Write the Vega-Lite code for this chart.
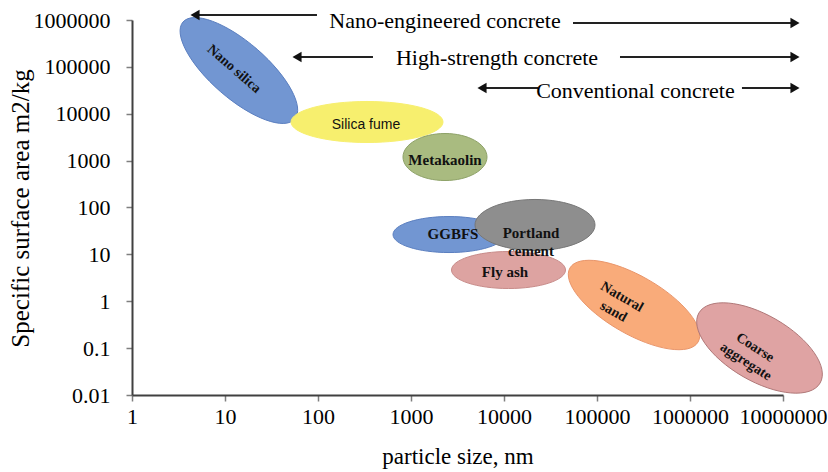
{
  "$schema": "https://vega.github.io/schema/vega-lite/v6.json",
  "autosize": {"type": "none"},
  "padding": {"left": 132, "top": 20, "right": 45, "bottom": 77},
  "width": 651,
  "height": 375,
  "background": "white",
  "config": {"view": {"stroke": null}},
  "datasets": {
    "materials": [
      {"material": "Nano silica", "size_nm": 14.1, "ssa": 83700},
      {"material": "Silica fume", "size_nm": 336.5, "ssa": 6670},
      {"material": "Metakaolin", "size_nm": 2320, "ssa": 1194},
      {"material": "GGBFS", "size_nm": 2563, "ssa": 26.5},
      {"material": "Portland cement", "size_nm": 21540, "ssa": 42.4},
      {"material": "Fly ash", "size_nm": 11180, "ssa": 4.64},
      {"material": "Natural sand", "size_nm": 250000, "ssa": 0.832},
      {"material": "Coarse aggregate", "size_nm": 5590000, "ssa": 0.1007}
    ],
    "labels": [
      {"material": "Nano silica", "text": "Nano silica", "size_nm": 12.5, "ssa": 90200},
      {"material": "Silica fume", "text": "Silica fume", "size_nm": 328, "ssa": 5754},
      {"material": "Metakaolin", "text": "Metakaolin", "size_nm": 2320, "ssa": 1030},
      {"material": "GGBFS", "text": "GGBFS", "size_nm": 2830, "ssa": 27.2},
      {"material": "Portland cement", "text": "Portland\ncement", "size_nm": 19500, "ssa": 28.6},
      {"material": "Fly ash", "text": "Fly ash", "size_nm": 10250, "ssa": 4.21},
      {"material": "Natural sand", "text": "Natural\nsand", "size_nm": 185700, "ssa": 1.23},
      {"material": "Coarse aggregate", "text": "Coarse\naggregate", "size_nm": 5000000, "ssa": 0.103}
    ],
    "arrows": [
      {"concrete": "Nano-engineered concrete", "side": "left", "x1": 4.76, "x2": 97.5, "y": 1279000},
      {"concrete": "Nano-engineered concrete", "side": "right", "x1": 55200, "x2": 13460000, "y": 863000},
      {"concrete": "High-strength concrete", "side": "left", "x1": 59.5, "x2": 390, "y": 162400},
      {"concrete": "High-strength concrete", "side": "right", "x1": 176700, "x2": 13460000, "y": 162400},
      {"concrete": "Conventional concrete", "side": "left", "x1": 5800, "x2": 23200, "y": 35400},
      {"concrete": "Conventional concrete", "side": "right", "x1": 3620000, "x2": 13460000, "y": 35400}
    ],
    "arrowText": [
      {"concrete": "Nano-engineered concrete", "x": 2320, "y": 951000},
      {"concrete": "High-strength concrete", "x": 8410, "y": 154600},
      {"concrete": "Conventional concrete", "x": 259000, "y": 30560}
    ]
  },
  "layer": [
    {
      "data": {"name": "materials"},
      "mark": {"type": "point", "filled": true, "opacity": 1, "size": 4, "strokeWidth": 1, "strokeOpacity": 1, "fillOpacity": 1},
      "encoding": {
        "x": {
          "field": "size_nm", "type": "quantitative",
          "scale": {"type": "log", "domain": [1, 10000000], "nice": false},
          "axis": {
            "title": "particle size, nm",
            "values": [1, 10, 100, 1000, 10000, 100000, 1000000, 10000000],
            "format": "d",
            "grid": false,
            "labelFont": "Liberation Serif", "labelFontSize": 22, "labelColor": "#000000",
            "labelPadding": 5, "labelFlush": false, "labelOverlap": false,
            "tickSize": 6, "tickColor": "#7f7f7f", "tickWidth": 1.5,
            "domainColor": "#404040", "domainWidth": 2,
            "titleFont": "Liberation Serif", "titleFontSize": 23, "titleFontWeight": "normal",
            "titleColor": "#000000", "titlePadding": 18
          }
        },
        "y": {
          "field": "ssa", "type": "quantitative",
          "scale": {"type": "log", "domain": [0.01, 1000000], "nice": false},
          "axis": {
            "title": "Specific surface area m2/kg",
            "values": [0.01, 0.1, 1, 10, 100, 1000, 10000, 100000, 1000000],
            "format": "~f",
            "grid": false,
            "labelFont": "Liberation Serif", "labelFontSize": 22, "labelColor": "#000000",
            "labelPadding": 16, "labelFlush": false, "labelOverlap": false,
            "tickSize": 6, "tickColor": "#7f7f7f", "tickWidth": 1.5,
            "domainColor": "#404040", "domainWidth": 2,
            "titleFont": "Liberation Serif", "titleFontSize": 25, "titleFontWeight": "normal",
            "titleColor": "#000000",
            "titleAngle": -90, "titleX": -112, "titleY": 188,
            "titleAlign": "center", "titleBaseline": "middle"
          }
        },
        "shape": {
          "field": "material", "type": "nominal", "legend": null,
          "scale": {
            "domain": ["Nano silica", "Silica fume", "Metakaolin", "GGBFS", "Portland cement", "Fly ash", "Natural sand", "Coarse aggregate"],
            "range": [
              "M55.85,48.55 C45.71,60.22 12.47,47.94 -18.37,21.13 C-49.21,-5.68 -65.99,-36.88 -55.85,-48.55 C-45.71,-60.22 -12.47,-47.94 18.37,-21.13 C49.21,5.68 65.99,36.88 55.85,48.55 Z",
              "M76,0 C76,11.32 41.97,20.5 0,20.5 C-41.97,20.5 -76,11.32 -76,0 C-76,-11.32 -41.97,-20.5 0,-20.5 C41.97,-20.5 76,-11.32 76,0 Z",
              "M42,0 C42,12.98 23.2,23.5 0,23.5 C-23.2,23.5 -42,12.98 -42,0 C-42,-12.98 -23.2,-23.5 0,-23.5 C23.2,-23.5 42,-12.98 42,0 Z",
              "M56,0 C56,9.94 30.93,18 0,18 C-30.93,18 -56,9.94 -56,0 C-56,-9.94 -30.93,-18 0,-18 C30.93,-18 56,-9.94 56,0 Z",
              "M60,0 C60,14.08 33.14,25.5 0,25.5 C-33.14,25.5 -60,14.08 -60,0 C-60,-14.08 -33.14,-25.5 0,-25.5 C33.14,-25.5 60,-14.08 60,0 Z",
              "M57,0 C57,10.22 31.48,18.5 0,18.5 C-31.48,18.5 -57,10.22 -57,0 C-57,-10.22 -31.48,-18.5 0,-18.5 C31.48,-18.5 57,-10.22 57,0 Z",
              "M64.08,37 C56.07,50.87 20.89,45.55 -14.5,25.11 C-49.89,4.67 -72.09,-23.13 -64.08,-37 C-56.07,-50.87 -20.89,-45.55 14.5,-25.11 C49.89,-4.67 72.09,23.13 64.08,37 Z",
              "M60.62,35 C51.5,50.79 16.98,47.91 -16.5,28.58 C-49.98,9.25 -69.74,-19.21 -60.62,-35 C-51.5,-50.79 -16.98,-47.91 16.5,-28.58 C49.98,-9.25 69.74,19.21 60.62,35 Z"
            ]
          }
        },
        "fill": {
          "field": "material", "type": "nominal", "legend": null,
          "scale": {
            "domain": ["Nano silica", "Silica fume", "Metakaolin", "GGBFS", "Portland cement", "Fly ash", "Natural sand", "Coarse aggregate"],
            "range": ["#7296d2", "#f7ef6e", "#a9bb80", "#7296d2", "#8e8e8e", "#dda3a1", "#f9ab7a", "#dfa3a3"]
          }
        },
        "stroke": {
          "field": "material", "type": "nominal", "legend": null,
          "scale": {
            "domain": ["Nano silica", "Silica fume", "Metakaolin", "GGBFS", "Portland cement", "Fly ash", "Natural sand", "Coarse aggregate"],
            "range": ["#5b7fc0", "#f7ef6e", "#8ea268", "#5b7fc0", "#777777", "#c88c8a", "#e9956a", "#b07878"]
          }
        }
      }
    },
    {
      "data": {"name": "labels"},
      "transform": [{"filter": "indexof(['Metakaolin','GGBFS','Portland cement','Fly ash'], datum.material) >= 0"}],
      "mark": {"type": "text", "font": "Liberation Serif", "fontSize": 15, "fontWeight": "bold", "color": "#111111", "lineBreak": "\n", "lineHeight": 18, "align": "center", "baseline": "middle"},
      "encoding": {
        "x": {"field": "size_nm", "type": "quantitative"},
        "y": {"field": "ssa", "type": "quantitative"},
        "text": {"field": "text", "type": "nominal"}
      }
    },
    {
      "data": {"name": "labels"},
      "transform": [{"filter": "datum.material == 'Silica fume'"}],
      "mark": {"type": "text", "font": "Liberation Sans", "fontSize": 14, "color": "#111111", "align": "center", "baseline": "middle"},
      "encoding": {
        "x": {"field": "size_nm", "type": "quantitative"},
        "y": {"field": "ssa", "type": "quantitative"},
        "text": {"field": "text", "type": "nominal"}
      }
    },
    {
      "data": {"name": "labels"},
      "transform": [{"filter": "datum.material == 'Nano silica'"}],
      "mark": {"type": "text", "font": "Liberation Serif", "fontSize": 14, "fontWeight": "bold", "color": "#111111", "angle": 41, "align": "center", "baseline": "middle"},
      "encoding": {
        "x": {"field": "size_nm", "type": "quantitative"},
        "y": {"field": "ssa", "type": "quantitative"},
        "text": {"field": "text", "type": "nominal"}
      }
    },
    {
      "data": {"name": "labels"},
      "transform": [{"filter": "datum.material == 'Natural sand'"}],
      "mark": {"type": "text", "font": "Liberation Serif", "fontSize": 14, "fontWeight": "bold", "color": "#111111", "angle": 30, "lineBreak": "\n", "lineHeight": 17, "align": "center", "baseline": "middle"},
      "encoding": {
        "x": {"field": "size_nm", "type": "quantitative"},
        "y": {"field": "ssa", "type": "quantitative"},
        "text": {"field": "text", "type": "nominal"}
      }
    },
    {
      "data": {"name": "labels"},
      "transform": [{"filter": "datum.material == 'Coarse aggregate'"}],
      "mark": {"type": "text", "font": "Liberation Serif", "fontSize": 14, "fontWeight": "bold", "color": "#111111", "angle": 33, "lineBreak": "\n", "lineHeight": 17, "align": "center", "baseline": "middle"},
      "encoding": {
        "x": {"field": "size_nm", "type": "quantitative"},
        "y": {"field": "ssa", "type": "quantitative"},
        "text": {"field": "text", "type": "nominal"}
      }
    },
    {
      "data": {"name": "arrows"},
      "mark": {"type": "rule", "color": "#222222", "strokeWidth": 2},
      "encoding": {
        "x": {"field": "x1", "type": "quantitative"},
        "x2": {"field": "x2"},
        "y": {"field": "y", "type": "quantitative"}
      }
    },
    {
      "data": {"name": "arrows"},
      "transform": [{"filter": "datum.side == 'left'"}],
      "mark": {"type": "point", "shape": "triangle-left", "filled": true, "opacity": 1, "size": 110, "color": "#111111"},
      "encoding": {
        "x": {"field": "x1", "type": "quantitative"},
        "y": {"field": "y", "type": "quantitative"}
      }
    },
    {
      "data": {"name": "arrows"},
      "transform": [{"filter": "datum.side == 'right'"}],
      "mark": {"type": "point", "shape": "triangle-right", "filled": true, "opacity": 1, "size": 110, "color": "#111111"},
      "encoding": {
        "x": {"field": "x2", "type": "quantitative"},
        "y": {"field": "y", "type": "quantitative"}
      }
    },
    {
      "data": {"name": "arrowText"},
      "mark": {"type": "text", "font": "Liberation Serif", "fontSize": 22, "color": "#000000", "align": "center", "baseline": "middle"},
      "encoding": {
        "x": {"field": "x", "type": "quantitative"},
        "y": {"field": "y", "type": "quantitative"},
        "text": {"field": "concrete", "type": "nominal"}
      }
    }
  ]
}
